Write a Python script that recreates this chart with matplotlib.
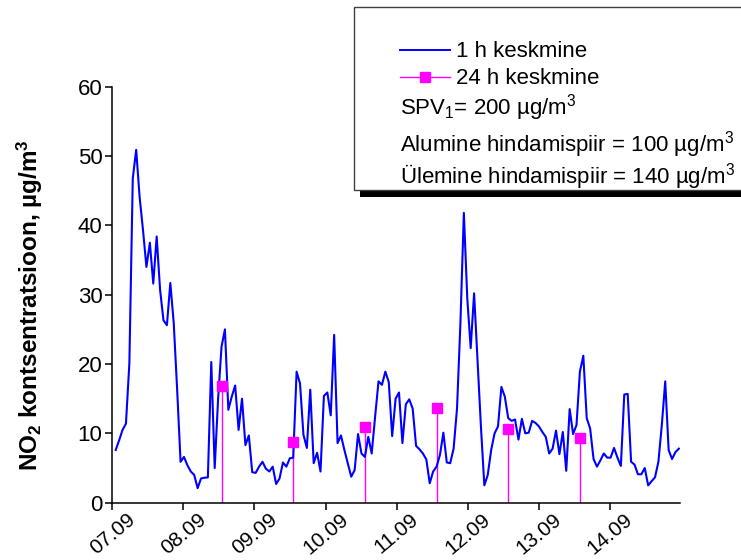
import numpy as np
import matplotlib
matplotlib.use("Agg")
import matplotlib.pyplot as plt
from matplotlib.patches import Rectangle
from matplotlib.lines import Line2D

plt.rcParams['font.family'] = ['Liberation Sans', 'DejaVu Sans']
plt.rcParams['mathtext.fontset'] = 'custom'
plt.rcParams['mathtext.rm'] = 'Liberation Sans'
plt.rcParams['mathtext.it'] = 'Liberation Sans:italic'
plt.rcParams['mathtext.bf'] = 'Liberation Sans:bold'

# ---- data ----
day_labels = ['07.09', '08.09', '09.09', '10.09', '11.09', '12.09', '13.09', '14.09']
samples_per_day = 20.83  # spacing of the 1 h samples on the day axis
hourly_values = [
    7.6, 9.0, 10.5, 11.4, 20.1, 46.8, 50.9, 44.1, 39.3, 34.0,
    37.5, 31.6, 38.4, 30.7, 26.3, 25.6, 31.7, 25.9, 16.3, 5.9,
    6.6, 5.4, 4.5, 4.0, 2.1, 3.5, 3.6, 3.65, 20.3, 5.0,
    15.0, 22.5, 25.0, 13.4, 15.3, 16.9, 10.5, 15.0, 8.3, 9.7,
    4.4, 4.3, 5.2, 5.9, 4.9, 4.5, 5.2, 2.7, 3.5, 5.8,
    5.2, 6.4, 6.5, 18.9, 17.2, 9.8, 7.9, 16.3, 5.7, 7.2,
    4.5, 15.4, 15.9, 12.6, 24.2, 8.6, 9.7, 7.6, 5.7, 3.75,
    4.7, 9.9, 7.1, 6.6, 9.5, 7.1, 12.4, 17.5, 17.0, 18.9,
    17.4, 9.6, 15.0, 15.9, 8.6, 14.2, 14.9, 13.6, 8.2, 7.7,
    7.1, 6.25, 2.8, 4.5, 5.2, 6.9, 10.1, 5.8, 5.7, 7.8,
    13.6, 26.0, 41.8, 29.5, 22.3, 30.2, 20.5, 11.0, 2.5, 4.0,
    7.6, 10.0, 11.0, 16.7, 15.3, 12.2, 11.8, 12.0, 9.1, 12.1,
    10.0, 10.1, 11.8, 11.5, 11.0, 10.2, 9.5, 7.1, 7.8, 10.4,
    7.0, 10.2, 4.6, 13.5, 9.9, 11.2, 18.9, 21.2, 12.2, 10.7,
    6.3, 5.2, 6.1, 7.1, 6.5, 6.5, 7.9, 6.5, 5.3, 15.6,
    15.7, 5.9, 5.5, 4.1, 4.1, 5.0, 2.5, 3.1, 3.65, 5.9,
    11.2, 17.5, 7.6, 6.3, 7.3, 7.8,
]
daily_days = [1.54, 2.546, 3.55, 4.563, 5.57, 6.582]
daily_values = [16.9, 8.7, 10.9, 13.6, 10.6, 9.3]

hourly_days = np.arange(1, len(hourly_values) + 1) / samples_per_day

W, H = 741, 560
fig = plt.figure(figsize=(W / 100, H / 100), dpi=100)
fx = lambda px: px / W
fy = lambda py: 1 - py / H

ax = fig.add_axes([fx(112.3), fy(502.7), (680 - 112.3) / W, (502.7 - 86.7) / H])

ax.plot(hourly_days, hourly_values, color='#0000FF', lw=1.5, zorder=3)
ax.vlines(daily_days, 0, daily_values, color='#FF00FF', lw=1.0, zorder=2)
ax.plot(daily_days, daily_values, ls='none', marker='s', ms=6.7,
        color='#FF00FF', zorder=4)

ax.set_xlim(0, 7.985)
ax.set_ylim(0, 60)
ax.set_xticks(range(len(day_labels)))
ax.set_xticklabels(day_labels, rotation=40, ha='center', va='top', fontsize=15)
ax.set_yticks(range(0, 61, 10))
ax.tick_params(axis='both', width=1.1, length=5, direction='out')
ax.tick_params(axis='y', labelsize=16, pad=2)
ax.tick_params(axis='x', pad=0)
for s in ['top', 'right']:
    ax.spines[s].set_visible(False)
for s in ['left', 'bottom']:
    ax.spines[s].set_linewidth(1.1)
    ax.spines[s].set_zorder(5)

fig.text(fx(30), fy(305), r'NO$_\mathbf{2}$ kontsentratsioon, µg/m$^\mathbf{3}$',
         fontsize=17.5, fontweight='bold', rotation=90, ha='center', va='center')

# ---- legend box (drawn in figure coordinates) ----
fig.add_artist(Rectangle((fx(360), fy(197)), (760 - 360) / W, (197 - 13) / H,
                         transform=fig.transFigure, fc='black', ec='none', zorder=10))
fig.add_artist(Rectangle((fx(354), fy(190)), (760 - 354) / W, (190 - 7.3) / H,
                         transform=fig.transFigure, fc='white', ec='#404040', lw=1.0, zorder=11))
fig.add_artist(Line2D([fx(400), fx(450)], [fy(49.5), fy(49.5)], transform=fig.transFigure,
                      color='#0000FF', lw=1.4, zorder=12))
fig.add_artist(Line2D([fx(400), fx(450)], [fy(77), fy(77)], transform=fig.transFigure,
                      color='#FF00FF', lw=1.0, zorder=12))
fig.add_artist(Line2D([fx(425)], [fy(77)], transform=fig.transFigure, ls='none',
                      marker='s', ms=6.7, color='#FF00FF', zorder=13))
fs = 16
fig.text(fx(456), fy(57.3), '1 h keskmine', fontsize=fs, va='baseline', zorder=12)
fig.text(fx(456), fy(84), '24 h keskmine', fontsize=fs, va='baseline', zorder=12)
fig.text(fx(400), fy(115), r'SPV$_1$= 200 µg/m$^3$', fontsize=fs, va='baseline', zorder=12)
fig.text(fx(400), fy(151.7), r'Alumine hindamispiir = 100 µg/m$^3$', fontsize=fs, va='baseline', zorder=12)
fig.text(fx(400), fy(183.3), r'Ülemine hindamispiir = 140 µg/m$^3$', fontsize=fs, va='baseline', zorder=12)

fig.savefig('out.png', dpi=100)
